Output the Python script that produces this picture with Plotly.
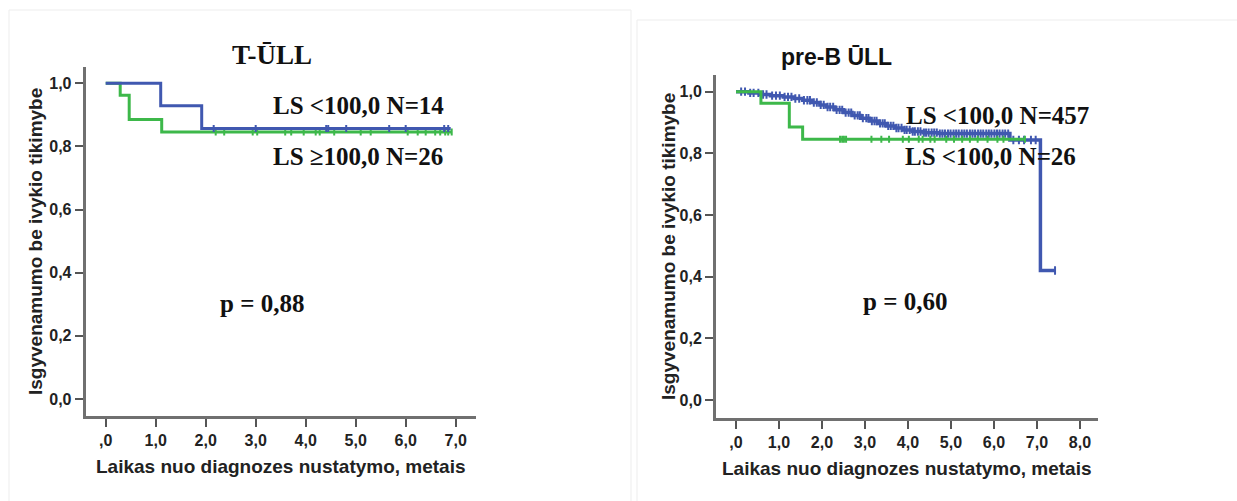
import plotly.graph_objects as go

W, H = 1237, 501

# ---------------- data ----------------
# T-ŪLL (left panel)
t_blue_times = [0.0, 1.10, 1.92]
t_blue_surv = [1.0, 0.929, 0.857]
t_blue_end = 6.90
t_blue_censor = [2.16, 3.00, 4.41, 4.45, 4.81, 5.67, 6.00, 6.77, 6.85]

t_green_times = [0.0, 0.29, 0.47, 1.12]
t_green_surv = [1.0, 0.962, 0.885, 0.846]
t_green_end = 6.92
t_green_censor = [2.20, 2.37, 2.94, 3.03, 3.59, 3.71, 3.96, 4.20, 4.28, 4.57, 5.10,
                  5.30, 6.04, 6.24, 6.40, 6.59, 6.69, 6.79, 6.85, 6.92]

# pre-B ŪLL (right panel)
b_blue_times = [0.0, 0.30, 0.55, 0.80, 1.10, 1.35, 1.55, 1.75, 1.95, 2.10, 2.30, 2.50,
                2.70, 2.90, 3.10, 3.30, 3.50, 3.70, 3.90, 4.10, 4.35, 4.70, 6.37, 7.08]
b_blue_surv = [1.0, 0.996, 0.991, 0.987, 0.983, 0.978, 0.972, 0.965, 0.957, 0.950, 0.941, 0.932,
               0.923, 0.914, 0.905, 0.897, 0.889, 0.882, 0.876, 0.871, 0.867, 0.864, 0.843, 0.42]
b_blue_end = 7.42
b_blue_censor = [0.12, 0.21, 0.33, 0.41, 0.52, 0.63, 0.71, 0.84, 0.93, 1.02, 1.13, 1.21, 1.29,
                 1.38, 1.47, 1.58, 1.66, 1.72, 1.81, 1.88, 1.97, 2.04, 2.13, 2.19, 2.26, 2.34,
                 2.41, 2.47, 2.55, 2.62, 2.68, 2.76, 2.83, 2.88, 2.95, 3.03, 3.08, 3.16, 3.22,
                 3.27, 3.35, 3.41, 3.46, 3.54, 3.60, 3.66, 3.73, 3.78, 3.85, 3.92, 3.97, 4.04,
                 4.11, 4.16, 4.23, 4.29, 4.37, 4.42, 4.48, 4.55, 4.61, 4.67, 4.74, 4.80, 4.86,
                 4.93, 4.99, 5.06, 5.12, 5.18, 5.25, 5.31, 5.37, 5.44, 5.50, 5.56, 5.63, 5.69,
                 5.75, 5.82, 5.88, 5.94, 6.01, 6.07, 6.13, 6.20, 6.26, 6.33, 6.45, 6.58, 6.70,
                 6.86, 6.97, 7.42]

b_green_times = [0.0, 0.58, 1.24, 1.55]
b_green_surv = [1.0, 0.962, 0.885, 0.846]
b_green_end = 6.74
b_green_censor = [2.42, 2.47, 2.51, 2.56, 3.15, 3.38, 3.56, 3.88, 4.02, 4.25, 4.34, 4.52,
                  4.62, 4.89, 5.07, 5.26, 5.44, 5.62, 5.85, 6.08, 6.22, 6.72]

x_ticks_left = [0, 1, 2, 3, 4, 5, 6, 7]
x_ticktext_left = [",0", "1,0", "2,0", "3,0", "4,0", "5,0", "6,0", "7,0"]
x_ticks_right = [0, 1, 2, 3, 4, 5, 6, 7, 8]
x_ticktext_right = [",0", "1,0", "2,0", "3,0", "4,0", "5,0", "6,0", "7,0", "8,0"]
y_ticks = [0.0, 0.2, 0.4, 0.6, 0.8, 1.0]
y_ticktext = ["0,0", "0,2", "0,4", "0,6", "0,8", "1,0"]

BLUE = "#4058B0"
GREEN = "#3DB84A"
AXIS = "#707070"


def step_xy(times, surv, end):
    return list(times) + [end], list(surv) + [surv[-1]]


def surv_at(times, surv, t):
    s = surv[0]
    for ti, si in zip(times, surv):
        if ti <= t:
            s = si
    return s


fig = go.Figure()


def add_curve(times, surv, end, censor, color, xa, ya, lw, msize, mw):
    x, y = step_xy(times, surv, end)
    fig.add_trace(go.Scatter(x=x, y=y, mode="lines", line=dict(color=color, width=lw, shape="hv"),
                             xaxis=xa, yaxis=ya, showlegend=False, hoverinfo="skip"))
    fig.add_trace(go.Scatter(x=censor, y=[surv_at(times, surv, c) for c in censor], mode="markers",
                             marker=dict(symbol="line-ns", size=msize, line=dict(color=color, width=mw)),
                             xaxis=xa, yaxis=ya, showlegend=False, hoverinfo="skip"))


add_curve(t_green_times, t_green_surv, t_green_end, t_green_censor, GREEN, "x", "y", 3, 5, 2)
add_curve(t_blue_times, t_blue_surv, t_blue_end, t_blue_censor, BLUE, "x", "y", 3, 5, 2)
add_curve(b_blue_times, b_blue_surv, b_blue_end, b_blue_censor, BLUE, "x2", "y2", 3.5, 6, 2)
add_curve(b_green_times, b_green_surv, b_green_end, b_green_censor, GREEN, "x2", "y2", 3, 5, 2)

tickfont = dict(family="Liberation Sans", size=16, color="#222222", weight="bold")
common_x = dict(showline=True, linecolor=AXIS, linewidth=3, ticks="outside", ticklen=8,
                tickwidth=2, tickcolor="#555555", showgrid=False, zeroline=False,
                tickfont=tickfont, fixedrange=True)
common_y = dict(showline=True, linecolor=AXIS, linewidth=3, ticks="outside", ticklen=8,
                tickwidth=2, tickcolor="#555555", showgrid=False, zeroline=False,
                tickfont=tickfont, tickvals=y_ticks, ticktext=y_ticktext, fixedrange=True)

fig.update_layout(
    width=W, height=H, margin=dict(l=0, r=0, t=0, b=0),
    paper_bgcolor="white", plot_bgcolor="white",
    xaxis=dict(domain=[85.7 / W, 476 / W], range=[-0.4, 7.406], anchor="y",
               tickvals=x_ticks_left, ticktext=x_ticktext_left, **common_x),
    yaxis=dict(domain=[(H - 416) / H, (H - 67) / H], range=[-0.0539, 1.0516], anchor="x", **common_y),
    xaxis2=dict(domain=[716 / W, 1098.3 / W], range=[-0.465, 8.426], anchor="y2",
                tickvals=x_ticks_right, ticktext=x_ticktext_right, **common_x),
    yaxis2=dict(domain=[(H - 417.5) / H, (H - 75) / H], range=[-0.0568, 1.054], anchor="x2", **common_y),
)

serif = dict(family="Liberation Serif", size=25, color="#111111", weight="bold")
sans_title = dict(family="Liberation Sans", size=19, color="#222222", weight="bold")

ann = [
    # in-plot labels
    dict(x=5.06, y=0.929, xref="x", yref="y", text="LS &lt;100,0 N=14", font=serif),
    dict(x=5.05, y=0.767, xref="x", yref="y", text="LS ≥100,0 N=26", font=serif),
    dict(x=3.13, y=0.304, xref="x", yref="y", text="p = 0,88", font=serif),
    dict(x=6.07, y=0.924, xref="x2", yref="y2", text="LS &lt;100,0 N=457", font=serif),
    dict(x=5.93, y=0.789, xref="x2", yref="y2", text="LS &lt;100,0 N=26", font=serif),
    dict(x=3.94, y=0.319, xref="x2", yref="y2", text="p = 0,60", font=serif),
    # titles
    dict(x=272.3 / W, y=(H - 55) / H, xref="paper", yref="paper", text="T-ŪLL",
         font=dict(family="Liberation Serif", size=27, color="#111111", weight="bold")),
    dict(x=836.8 / W, y=(H - 56.7) / H, xref="paper", yref="paper", text="pre-B ŪLL",
         font=dict(family="Liberation Sans", size=23, color="#111111", weight="bold")),
    # axis titles
    dict(x=35 / W, y=(H - 242) / H, xref="paper", yref="paper", text="Isgyvenamumo be ivykio tikimybe",
         textangle=-90, font=sans_title),
    dict(x=668 / W, y=(H - 247) / H, xref="paper", yref="paper", text="Isgyvenamumo be ivykio tikimybe",
         textangle=-90, font=sans_title),
    dict(x=280.6 / W, y=(H - 466.7) / H, xref="paper", yref="paper",
         text="Laikas nuo diagnozes nustatymo, metais", font=sans_title),
    dict(x=907 / W, y=(H - 468.3) / H, xref="paper", yref="paper",
         text="Laikas nuo diagnozes nustatymo, metais", font=sans_title),
]
for a in ann:
    a.update(showarrow=False, xanchor="center", yanchor="middle")
fig.update_layout(annotations=ann)

# faint panel frames
fig.update_layout(shapes=[
    dict(type="rect", xref="paper", yref="paper", x0=9 / W, x1=631 / W, y0=-0.1, y1=(H - 10) / H,
         line=dict(color="#EDEDED", width=1), fillcolor="rgba(0,0,0,0)", layer="below"),
    dict(type="rect", xref="paper", yref="paper", x0=637 / W, x1=1.1, y0=-0.1, y1=(H - 20) / H,
         line=dict(color="#EDEDED", width=1), fillcolor="rgba(0,0,0,0)", layer="below"),
])

fig.write_html("out.html")
